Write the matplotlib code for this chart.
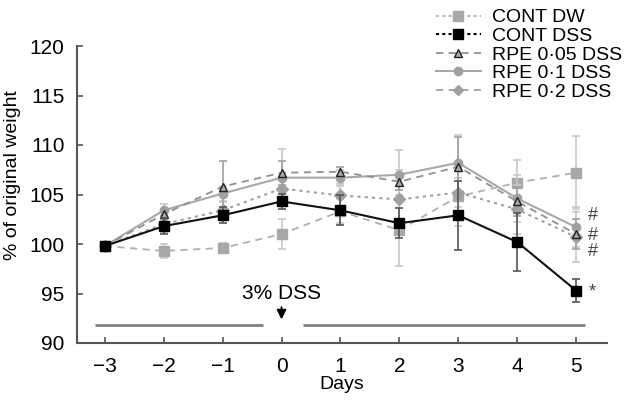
import matplotlib
matplotlib.use('Agg')
import matplotlib.pyplot as plt
from matplotlib.lines import Line2D

plt.rcParams['font.family'] = ['Liberation Sans', 'DejaVu Sans']

# --- data ---
days = [-3, -2, -1, 0, 1, 2, 3, 4, 5]
series_names = ['CONT DW', 'CONT DSS', 'RPE 0\u00b705 DSS', 'RPE 0\u00b71 DSS', 'RPE 0\u00b72 DSS']

cont_dw = [99.8, 99.3, 99.6, 101.0, 103.3, 101.4, 104.8, 106.2, 107.2]
cont_dss = [99.8, 101.8, 102.9, 104.3, 103.4, 102.1, 102.9, 100.2, 95.3]
rpe_005 = [99.8, 103.0, 105.8, 107.2, 107.3, 106.3, 107.8, 104.3, 101.0]
rpe_01 = [99.8, 103.4, 105.1, 106.7, 106.7, 107.0, 108.2, 104.6, 101.7]
rpe_02 = [99.8, 102.0, 103.4, 105.6, 104.9, 104.5, 105.2, 103.5, 100.7]

err_dw = [0.3, 0.7, 0.5, 1.5, 1.2, 3.6, 3.0, 2.3, 3.7]
err_dss = [0.2, 0.8, 0.8, 0.8, 1.5, 1.5, 3.5, 2.9, 1.2]
err_005 = [0.2, 0.5, 2.6, 1.2, 0.5, 0.8, 3.0, 1.5, 1.5]
err_01 = [0.2, 0.6, 0.8, 2.9, 0.8, 2.5, 2.8, 2.4, 2.0]
err_02 = [0.2, 0.8, 0.8, 1.0, 1.2, 3.0, 1.5, 2.5, 2.5]

sig_marks = ['#', '#', '#', '*']
sig_y = [102.9, 100.9, 99.2, 95.2]

fig = plt.figure(figsize=(6.32, 4.0), dpi=100)
ax = fig.add_axes([0.122, 0.1425, 0.838, 0.7425])

eb = dict(capsize=3, elinewidth=1.2, capthick=1.2)
ax.errorbar(days, cont_dw, yerr=err_dw, color='#b0b0b0', ls=(0, (4, 3)), lw=1.3,
            marker='s', ms=7, mfc='#a8a8a8', mec='#a8a8a8', ecolor='#c8c8c8', **eb, zorder=2)
ax.errorbar(days, rpe_02, yerr=err_02, color='#a0a0a0', ls=(0, (1.5, 2)), lw=1.5,
            marker='D', ms=6, mfc='#a0a0a0', mec='#a0a0a0', ecolor='#c8c8c8', **eb, zorder=3)
ax.errorbar(days, rpe_01, yerr=err_01, color='#a8a8a8', ls='-', lw=1.5,
            marker='o', ms=6, mfc='#a0a0a0', mec='#a0a0a0', ecolor='#c8c8c8', **eb, zorder=3)
ax.errorbar(days, rpe_005, yerr=err_005, color='#909090', ls=(0, (4, 3)), lw=1.3,
            marker='^', ms=6, mfc='#a8a8a8', mec='#202020', ecolor='#a0a0a0', **eb, zorder=4)
ax.errorbar(days, cont_dss, yerr=err_dss, color='#111111', ls='-', lw=1.5,
            marker='s', ms=7, mfc='black', mec='black', ecolor='#555555', **eb, zorder=5)

for m, yv in zip(sig_marks, sig_y):
    ax.text(5.28, yv, m, fontsize=13, ha='center', va='center', color='#444444')

# DSS period bars and arrow
ax.plot([-3.17, -0.32], [91.8, 91.8], color='#808080', lw=2, solid_capstyle='butt')
ax.plot([0.36, 5.15], [91.8, 91.8], color='#808080', lw=2, solid_capstyle='butt')
ax.annotate('', xy=(0, 92.1), xytext=(0, 93.9),
            arrowprops=dict(arrowstyle='-|>', color='black', lw=1.3, mutation_scale=14))
ax.text(0, 95.0, '3% DSS', ha='center', va='center', fontsize=15)

ax.set_xlim(-3.47, 5.52)
ax.set_ylim(90, 120)
ax.set_xticks(days)
ax.set_yticks([90, 95, 100, 105, 110, 115, 120])
ax.tick_params(direction='in', length=4, width=1.2, labelsize=15, color='#555555')
ax.tick_params(axis='x', pad=10)
ax.tick_params(axis='y', pad=9)
ax.spines['top'].set_visible(False)
ax.spines['right'].set_visible(False)
for s in ['left', 'bottom']:
    ax.spines[s].set_linewidth(1.5)
    ax.spines[s].set_color('#555555')
ax.set_xlabel('Days', fontsize=14, labelpad=0)
ax.set_ylabel('% of original weight', fontsize=14)
ax.yaxis.set_label_coords(-0.106, 0.566)

handles = [
    Line2D([], [], color='#b8b8b8', ls=(0, (1.5, 1.5)), lw=1.5, marker='s', ms=7, mfc='#a8a8a8', mec='#a8a8a8'),
    Line2D([], [], color='black', ls=(0, (1.5, 1.5)), lw=1.5, marker='s', ms=7, mfc='black', mec='black'),
    Line2D([], [], color='#909090', ls=(0, (4, 3)), lw=1.3, marker='^', ms=6, mfc='#a8a8a8', mec='#202020'),
    Line2D([], [], color='#a8a8a8', ls='-', lw=1.5, marker='o', ms=6, mfc='#a0a0a0', mec='#a0a0a0'),
    Line2D([], [], color='#a0a0a0', ls=(0, (4, 3)), lw=1.3, marker='D', ms=5, mfc='#a0a0a0', mec='#a0a0a0'),
]
fig.legend(handles, series_names, loc='upper left', bbox_to_anchor=(0.668, 1.012),
           frameon=False, fontsize=14, handlelength=2.3, handletextpad=0.6,
           labelspacing=0.05, borderpad=0.2)

fig.savefig('out.png', dpi=100)
